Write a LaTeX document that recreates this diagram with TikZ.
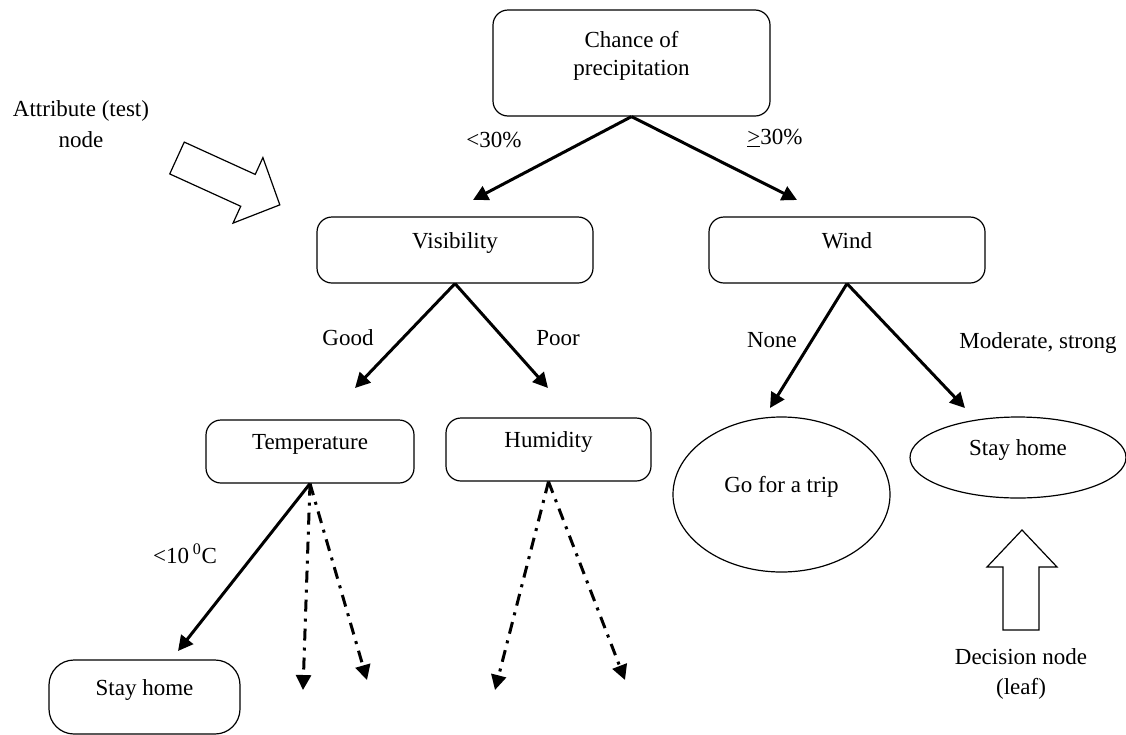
\documentclass[tikz,border=0pt]{standalone}
\usepackage{fontspec}
\setmainfont{Liberation Serif}
\usetikzlibrary{arrows.meta,shapes.geometric}

\begin{document}
\begin{tikzpicture}[x=1pt, y=-1pt,
    font=\fontsize{23}{28}\selectfont,
    tbox/.style={draw, line width=1.2pt, rounded corners=15pt, text height=16pt, text depth=20pt, align=center},
    leaf/.style={draw, ellipse, line width=1.2pt, inner sep=2pt, text height=16pt, text depth=20pt},
    edge/.style={line width=3pt, -{Triangle[length=15pt, width=15pt]}},
    dashedge/.style={line width=3pt, dash pattern=on 12pt off 7pt on 3pt off 7pt, -{Triangle[length=15pt, width=15pt]}},
    block/.style={draw, line width=1.2pt, line join=miter}]
    \useasboundingbox (0,0) rectangle (1126,734);

    %% test nodes
    \node[tbox, text height=44pt, minimum width=277, minimum height=106] (chance) at (631.5,63) {Chance of\\precipitation};
    \node[tbox, minimum width=276, minimum height=66] (visibility) at (455,250) {Visibility};
    \node[tbox, minimum width=276, minimum height=66] (wind) at (847,250) {Wind};
    \node[tbox, minimum width=208, minimum height=63] (temperature) at (310,451.5) {Temperature};
    \node[tbox, minimum width=205, minimum height=63] (humidity) at (548.5,449.5) {Humidity};

    %% leaves
    \node[tbox, rounded corners=25pt, minimum width=191, minimum height=74] (homebox) at (144.5,697) {Stay home};
    \node[leaf, minimum width=217, minimum height=155] (tripleaf) at (781.5,494.5) {Go for a trip};
    \node[leaf, minimum width=216, minimum height=81] (homeleaf) at (1018,457.5) {Stay home};

    %% arrow ends
    \coordinate (c1) at (473,200);
    \coordinate (c2) at (797,200);
    \coordinate (v1) at (355,388);
    \coordinate (v2) at (548,388);
    \coordinate (w1) at (770,408);
    \coordinate (w2) at (965,408);
    \coordinate (t1) at (178,651);
    \coordinate (t2) at (303,690);
    \coordinate (t3) at (367,680);
    \coordinate (h1) at (495,690);
    \coordinate (h2) at (625,680);

    \foreach \src/\dst in {chance/c1, chance/c2, visibility/v1, visibility/v2, wind/w1, wind/w2, temperature/t1} {
        \draw[edge] (\src.south) -- (\dst);
    }
    \foreach \src/\dst in {temperature/t2, temperature/t3, humidity/h1, humidity/h2} {
        \draw[dashedge] (\src.south) -- (\dst);
    }

    %% branch labels
    \node (lt30) at (494,140) {<30\%};
    \node (ge30) at (775,138) {\underline{>}30\%};
    \node (good) at (348,338) {Good};
    \node (poor) at (558,338) {Poor};
    \node (none) at (772,340) {None};
    \node (modstrong) at (1038,343) {Moderate, strong};
    \node (lt10) at (185,554) {<10\,\textsuperscript{0}C};

    %% callouts
    \node[align=center, font=\fontsize{23}{31}\selectfont] (attrnote) at (81,124) {Attribute (test)\\node};
    \node[align=center, font=\fontsize{23}{30}\selectfont] (leafnote) at (1021,674) {Decision node\\(leaf)};
    \begin{scope}[shift={(177,158)}, rotate=-24.5]
        \draw[block] (0,-17.5) -- (78,-17.5) -- (78,-36) -- (113,0) -- (78,36) -- (78,17.5) -- (0,17.5) -- cycle;
    \end{scope}
    \draw[block] (1003,630) -- (1003,567) -- (987,567) -- (1022,530) -- (1057,567) -- (1039,567) -- (1039,630) -- cycle;
\end{tikzpicture}
\end{document}
